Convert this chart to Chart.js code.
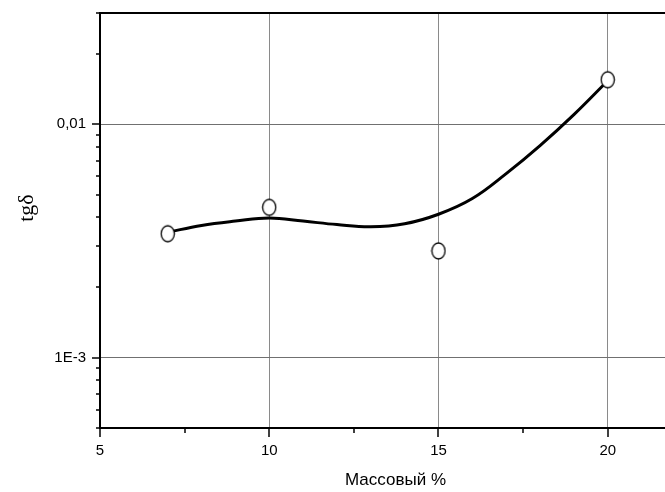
<!DOCTYPE html>
<html><head><meta charset="utf-8">
<script src="https://cdn.jsdelivr.net/npm/chart.js@4/dist/chart.umd.min.js"></script>
<style>
html,body{margin:0;padding:0;overflow:hidden;background:#fff;width:665px;height:492px}
#wrap{width:700px;height:492px}
</style>
</head><body>
<div id="wrap"><canvas id="c" width="700" height="492"></canvas></div>
<script>
// measured points (open circles)
const markX = [7, 10, 15, 20];
const markY = [0.0034, 0.00441, 0.00287, 0.01553];
// fitted curve
const curveX = [7, 8, 9, 10, 11, 12, 13, 14, 15, 16, 17, 18, 19, 20];
const curveY = [0.00345, 0.00369, 0.00385, 0.00397, 0.00385, 0.00372, 0.00364, 0.00375, 0.00412, 0.00481, 0.00615, 0.00811, 0.01101, 0.01538];
// axes
const xTicks = [5, 7.5, 10, 12.5, 15, 17.5, 20];
const xMajor = [5, 10, 15, 20];
const xGrid = [10, 15, 20];
const yTicks = [0.0005, 0.0006, 0.0007, 0.0008, 0.0009, 0.001, 0.002, 0.003, 0.004, 0.005, 0.006, 0.007, 0.008, 0.009, 0.01, 0.02, 0.03];
const yMajor = [0.001, 0.01];
const yLabels = ['1E-3', '0,01'];
const xTitle = 'Массовый %';
const yTitle = 'tgδ';

const near = (a, b) => Math.abs(a - b) <= Math.abs(b) * 1e-6;
const inList = (v, arr) => arr.some(t => near(v, t));

// ellipse marker image
const mk = document.createElement('canvas');
mk.width = 16; mk.height = 20;
(() => {
  const g = mk.getContext('2d');
  g.fillStyle = '#fff'; g.strokeStyle = '#000'; g.lineWidth = 1.3;
  g.beginPath(); g.ellipse(8, 10, 6.6, 8, 0, 0, Math.PI * 2); g.fill(); g.stroke();
})();

const deco = {
  id: 'deco',
  afterDraw(chart) {
    const { ctx, chartArea: a, scales: { x, y } } = chart;
    ctx.save();
    ctx.strokeStyle = '#000';
    ctx.lineWidth = 2;
    ctx.beginPath(); ctx.moveTo(a.left - 1, a.top); ctx.lineTo(a.right, a.top); ctx.stroke();
    ctx.lineWidth = 1.5;
    yTicks.forEach(v => {
      const p = Math.round(y.getPixelForValue(v));
      const len = inList(v, yMajor) ? 8 : 4;
      ctx.beginPath(); ctx.moveTo(a.left - len, p); ctx.lineTo(a.left, p); ctx.stroke();
    });
    xTicks.forEach(v => {
      const p = Math.round(x.getPixelForValue(v));
      const len = inList(v, xMajor) ? 9 : 5;
      ctx.beginPath(); ctx.moveTo(p, a.bottom); ctx.lineTo(p, a.bottom + len); ctx.stroke();
    });
    ctx.fillStyle = '#000';
    ctx.font = '22px "Liberation Serif"';
    ctx.translate(27, 208);
    ctx.rotate(-Math.PI / 2);
    ctx.textAlign = 'center';
    ctx.textBaseline = 'middle';
    ctx.fillText(yTitle, 0, 0);
    ctx.restore();
  }
};

new Chart(document.getElementById('c'), {
  type: 'scatter',
  data: {
    datasets: [
      {
        data: markX.map((v, i) => ({ x: v, y: markY[i] })),
        pointStyle: mk,
        pointRadius: 8,
        showLine: false
      },
      {
        data: curveX.map((v, i) => ({ x: v, y: curveY[i] })),
        showLine: true,
        borderColor: '#000',
        borderWidth: 3,
        pointRadius: 0,
        tension: 0.4,
        fill: false
      }
    ]
  },
  options: {
    responsive: false,
    animation: false,
    events: [],
    layout: { padding: { top: 13, left: 0, right: 0, bottom: 0 } },
    plugins: { legend: { display: false }, tooltip: { enabled: false } },
    scales: {
      x: {
        type: 'linear',
        min: 5, max: 22.46,
        afterBuildTicks: s => { s.ticks = xTicks.map(v => ({ value: v })); },
        afterFit: s => { s.height = 64; s.paddingLeft = 0; s.paddingRight = 0; },
        ticks: {
          autoSkip: false, maxRotation: 0, padding: 14,
          color: '#000', font: { family: 'Liberation Sans', size: 15 },
          callback: v => inList(v, xMajor) ? String(v) : ''
        },
        grid: {
          drawTicks: false,
          color: c => (c.tick && inList(c.tick.value, xGrid)) ? '#8a8a8a' : 'rgba(0,0,0,0)',
          lineWidth: 1
        },
        border: { display: true, color: '#000', width: 2 },
        title: {
          display: true, text: xTitle, color: '#000',
          font: { family: 'Liberation Sans', size: 17 },
          padding: { top: 0, bottom: 1 }
        }
      },
      y: {
        type: 'logarithmic',
        min: 0.0005, max: 0.03,
        afterBuildTicks: s => { s.ticks = yTicks.map(v => ({ value: v })); },
        afterFit: s => { s.width = 100; s.paddingTop = 0; s.paddingBottom = 0; },
        ticks: {
          autoSkip: false, padding: 14,
          color: '#000', font: { family: 'Liberation Sans', size: 15 },
          callback: v => { const i = yMajor.findIndex(t => near(v, t)); return i >= 0 ? yLabels[i] : ''; }
        },
        grid: {
          drawTicks: false,
          color: c => (c.tick && inList(c.tick.value, yMajor)) ? '#707070' : 'rgba(0,0,0,0)',
          lineWidth: 1
        },
        border: { display: true, color: '#000', width: 2 }
      }
    }
  },
  plugins: [deco]
});
</script>
</body></html>
